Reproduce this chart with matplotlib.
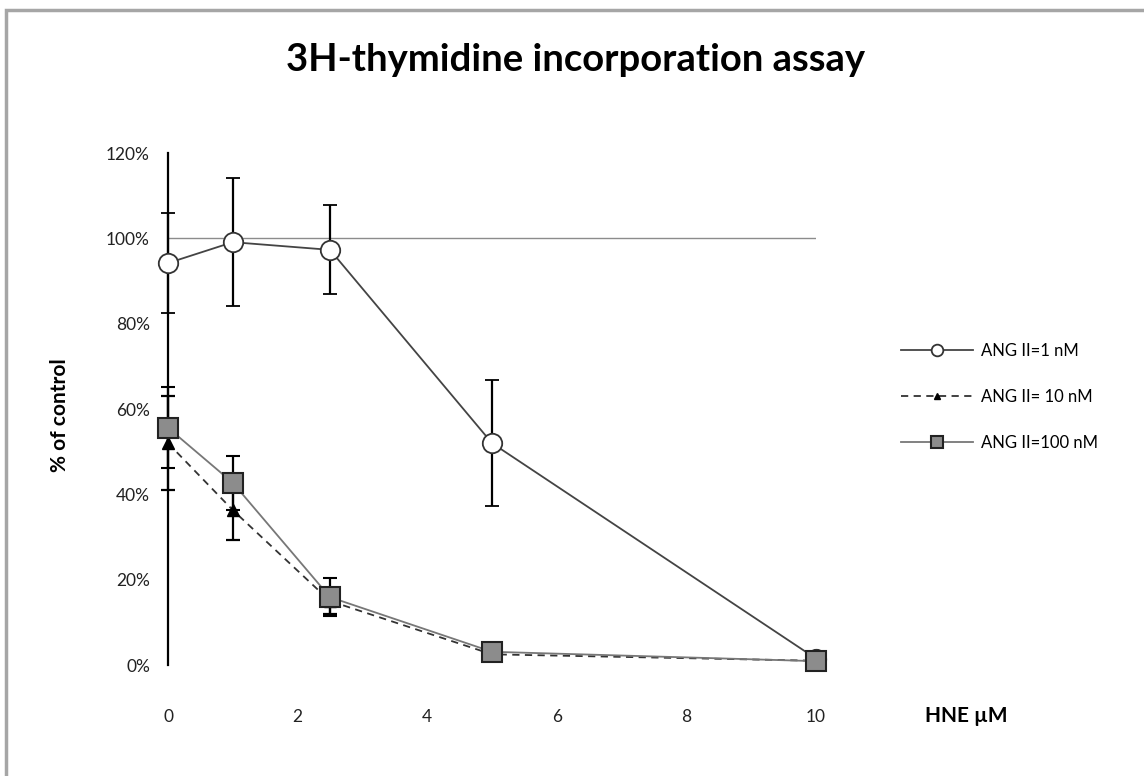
import matplotlib
matplotlib.use('Agg')
import matplotlib.pyplot as plt
from matplotlib.patches import Rectangle
from matplotlib.ticker import PercentFormatter

# HNE concentration (uM)
hne = [0, 1, 2.5, 5, 10]

# % of control
ang1 = [0.942, 0.991, 0.973, 0.520, 0.015]
ang1_err = [0.117, 0.150, 0.104, 0.147, 0.005]

ang10 = [0.520, 0.363, 0.150, 0.025, 0.010]
ang10_err = [0.110, 0.070, 0.030, 0.005, 0.003]

ang100 = [0.556, 0.427, 0.159, 0.031, 0.009]
ang100_err = [0.095, 0.063, 0.045, 0.005, 0.003]

labels = ['ANG II=1 nM', 'ANG II= 10 nM', 'ANG II=100 nM']
xticks = [0, 2, 4, 6, 8, 10]
yticks = [0, 0.2, 0.4, 0.6, 0.8, 1.0, 1.2]

plt.rcParams['font.family'] = ['Lato', 'DejaVu Sans']

W, H = 1144, 776
fig = plt.figure(figsize=(W / 100, H / 100), dpi=100)
fig.patch.set_facecolor('white')

# outer chart border (gray, runs off the right/bottom edges)
fig.patches.append(Rectangle((6 / W, -0.05), 1.1, 1 - 10 / H + 0.05,
                             transform=fig.transFigure, fill=False,
                             edgecolor='#a6a6a6', linewidth=2.5))

ax = fig.add_axes([168 / W, (H - 665) / H, 648 / W, 512 / H])
ax.set_xlim(0, 10)
ax.set_ylim(0, 1.2)

for side in ['top', 'right', 'bottom']:
    ax.spines[side].set_visible(False)
ax.spines['left'].set_color('black')
ax.spines['left'].set_linewidth(1.6)

ax.set_xticks(xticks)
ax.set_yticks(yticks)
ax.yaxis.set_major_formatter(PercentFormatter(1.0, decimals=0))
ax.tick_params(axis='x', length=0, pad=32, labelsize=12.5, colors='#222222')
ax.tick_params(axis='y', length=0, pad=13, labelsize=12.5, colors='#222222')

# reference line at 100%
ax.plot([0, 10], [1.0, 1.0], color='#8c8c8c', linewidth=1.0, zorder=1)

eb_kw = dict(ecolor='black', elinewidth=1.6, capsize=5, capthick=1.6, clip_on=False)

l1 = ax.errorbar(hne, ang1, yerr=ang1_err, color='#444444', linewidth=1.3,
                 marker='o', markersize=14, markerfacecolor='white',
                 markeredgecolor='#333333', markeredgewidth=1.3, zorder=3, **eb_kw)
l2 = ax.errorbar(hne, ang10, yerr=ang10_err, color='#333333', linewidth=1.3,
                 linestyle=(0, (4, 3)), marker='^', markersize=8,
                 markerfacecolor='black', markeredgecolor='black', zorder=4, **eb_kw)
l3 = ax.errorbar(hne, ang100, yerr=ang100_err, color='#777777', linewidth=1.3,
                 marker='s', markersize=15, markerfacecolor='#8c8c8c',
                 markeredgecolor='#222222', markeredgewidth=1.5, zorder=5, **eb_kw)
for c in (l1, l2, l3):
    for art in c.lines:
        if art is not None and not isinstance(art, tuple):
            art.set_clip_on(False)

fig.text(575 / W, 1 - 60 / H, '3H-thymidine incorporation assay',
         ha='center', va='center', fontsize=27.5, fontweight='bold')
fig.text(60 / W, 1 - 415 / H, '% of control', rotation=90,
         ha='center', va='center', fontsize=15, fontweight='bold')
fig.text(966 / W, 1 - 716 / H, 'HNE \u00b5M', ha='center', va='center',
         fontsize=15, fontweight='bold')

fig.legend([l1.lines[0], l2.lines[0], l3.lines[0]], labels,
           loc='upper left', bbox_to_anchor=(893 / W, 1 - 335 / H),
           frameon=False, borderpad=0, fontsize=12, handlelength=4.3,
           handletextpad=0.5, labelspacing=1.78, numpoints=1, markerscale=0.6)

fig.savefig('out.png', dpi=100)
